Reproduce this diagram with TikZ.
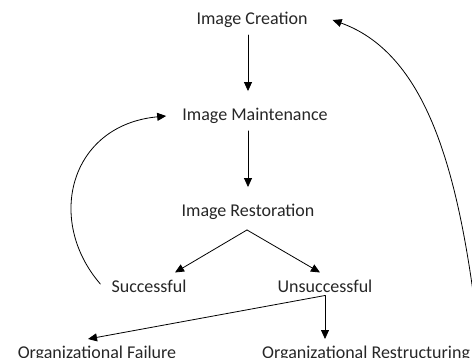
\documentclass[tikz,border=0pt]{standalone}
\usepackage{fontspec}
\setmainfont{Carlito}
\usepackage{tikz}
\usetikzlibrary{arrows.meta}

\begin{document}
\begin{tikzpicture}[line cap=round,line join=round,>={Triangle[length=9pt,width=8pt]},x=1pt,y=-1pt,
  lbl/.style={font=\fontsize{18}{21}\selectfont,text=black!85,inner sep=0pt},
  flow/.style={->,line width=0.8pt},
  down/.style={flow,shorten <=7pt,shorten >=17pt}]

\useasboundingbox (0,0) rectangle (472,358);
\clip (0,0) rectangle (472,358);

% stages
\node[lbl] (create) at (252,20) {Image Creation};
\node[lbl] (maint) at (255,116) {Image Maintenance};
\node[lbl] (rest) at (248,212) {Image Restoration};
\node[lbl] (succ) at (149,286) {Successful};
\node[lbl] (unsucc) at (325,286) {Unsuccessful};
\node[lbl] (fail) at (97,354) {Organizational Failure};
\node[lbl,anchor=west] (restruct) at (262,354) {Organizational Restructuring};

\coordinate (split) at ([yshift=-10pt]rest.south -| 247,0);
\coordinate (fork) at ([yshift=-3pt]unsucc.south);
\coordinate (back) at (478,330);
\coordinate (retry) at ([xshift=-11pt,yshift=2pt]succ.west);

\draw[down] (create.south -| 248,0) -- (maint.north -| 248,0);
\draw[down] (maint.south -| 248,0) -- (rest.north -| 248,0);
\draw[flow] (split) -- ([xshift=26pt,yshift=7pt]succ.north);
\draw[flow] (split) -- ([xshift=-5pt,yshift=7pt]unsucc.north);
\draw[flow] (fork) -- ([yshift=7pt]fork |- restruct.north);
\draw[flow] (fork) -- ([xshift=-9pt,yshift=7pt]fail.north);

% loops back
\draw[flow] (retry) .. controls (45,220) and (70,125) .. ([xshift=-16pt]maint.west);
\draw[flow] (back) .. controls (460,180) and (430,55) .. ([xshift=25pt]create.east);
\end{tikzpicture}
\end{document}
